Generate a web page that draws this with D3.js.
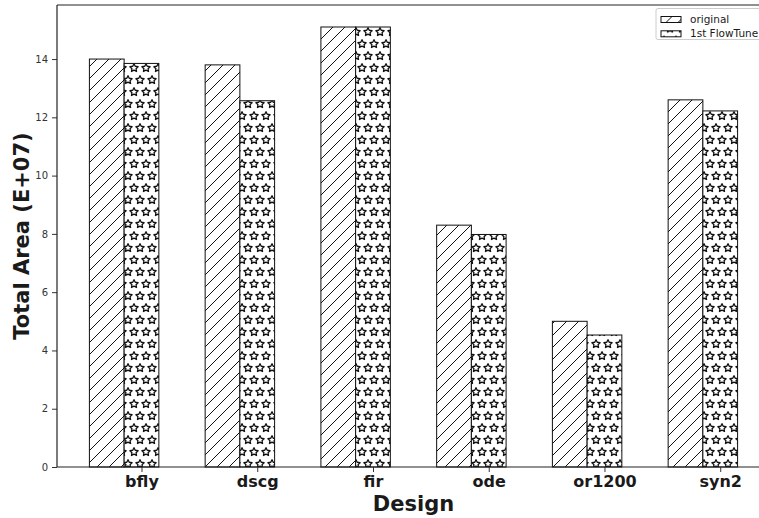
<!DOCTYPE html>
<html>
<head>
<meta charset="utf-8">
<script src="https://cdn.jsdelivr.net/npm/d3@7"></script>
<style>
  html, body { margin: 0; padding: 0; background: #fff; }
  svg { display: block; font-family: "DejaVu Sans", sans-serif; }
</style>
</head>
<body>
<svg id="chart" width="759" height="518"></svg>
<script>
// values (units: E+07)
const designs = ["bfly", "dscg", "fir", "ode", "or1200", "syn2"];
const original = [14.0, 13.8, 15.1, 8.3, 5.0, 12.6];
const flowTune = [13.85, 12.57, 15.1, 7.98, 4.53, 12.22];
const seriesNames = ["original", "1st FlowTune"];
const yTicks = [0, 2, 4, 6, 8, 10, 12, 14];

const svg = d3.select("#chart");
const W = 759, H = 518;
const plot = { left: 57, right: 770, top: 5, bottom: 467 };
const barW = 0.3;

const x = d3.scaleLinear().domain([-0.43, 5.73]).range([plot.left, plot.right]);
const y = d3.scaleLinear().domain([0, 15.855]).range([plot.bottom, plot.top]);

// hatch patterns
const defs = svg.append("defs");
const diag = defs.append("pattern")
    .attr("id", "hatchDiag")
    .attr("patternUnits", "userSpaceOnUse")
    .attr("width", 12).attr("height", 12);
diag.append("rect").attr("width", 12).attr("height", 12).attr("fill", "#fff");
diag.append("path")
    .attr("d", "M-3,3 L3,-3 M0,12 L12,0 M9,15 L15,9")
    .attr("stroke", "#111").attr("stroke-width", 1);

const starPath = (cx, cy, r) => {
    const pts = d3.range(10).map(i => {
        const a = -Math.PI / 2 + i * Math.PI / 5;
        const rr = i % 2 === 0 ? r : r * 0.5;
        return [cx + rr * Math.cos(a), cy + rr * Math.sin(a)];
    });
    return "M" + pts.map(p => p.join(",")).join("L") + "Z";
};
const stars = defs.append("pattern")
    .attr("id", "hatchStar")
    .attr("patternUnits", "userSpaceOnUse")
    .attr("width", 12).attr("height", 24)
    .attr("patternTransform", "translate(8,8)");
stars.append("rect").attr("width", 12).attr("height", 24).attr("fill", "#fff");
[[0, 0], [12, 0], [0, 24], [12, 24], [6, 12]].forEach(([cx, cy]) => {
    stars.append("path")
        .attr("d", starPath(cx, cy, 4.3))
        .attr("fill", "none")
        .attr("stroke", "#111")
        .attr("stroke-width", 1.3)
        .attr("stroke-linejoin", "round");
});

const fills = ["url(#hatchDiag)", "url(#hatchStar)"];

// bars
const rows = designs.map((d, i) => ({ i, vals: [original[i], flowTune[i]] }));
const g = svg.append("g");
rows.forEach(r => {
    r.vals.forEach((v, s) => {
        const x0 = r.i - barW / 2 + s * barW;
        g.append("rect")
            .attr("x", x(x0))
            .attr("y", y(v))
            .attr("width", x(x0 + barW) - x(x0))
            .attr("height", y(0) - y(v))
            .attr("fill", fills[s])
            .attr("stroke", "#111")
            .attr("stroke-width", 1);
    });
});

// axes
const yAxis = svg.append("g")
    .attr("transform", `translate(${plot.left},0)`)
    .call(d3.axisLeft(y).tickValues(yTicks).tickSize(5).tickPadding(4));
yAxis.select(".domain").remove();
yAxis.selectAll("text").attr("font-size", 10).attr("fill", "#333")
    .attr("font-family", "DejaVu Sans");
yAxis.selectAll("line").attr("stroke", "#333");

const xAxis = svg.append("g")
    .attr("transform", `translate(0,${plot.bottom})`)
    .call(d3.axisBottom(x)
        .tickValues(designs.map((d, i) => i + barW))
        .tickFormat((d, i) => designs[i])
        .tickSize(5).tickPadding(4));
xAxis.select(".domain").remove();
xAxis.selectAll("text").attr("font-size", 16).attr("font-weight", "bold")
    .attr("fill", "#1a1a1a").attr("font-family", "DejaVu Sans");
xAxis.selectAll("line").attr("stroke", "#333");

// spines
svg.append("line").attr("x1", plot.left).attr("x2", W).attr("y1", plot.top).attr("y2", plot.top)
    .attr("stroke", "#222").attr("stroke-width", 1.2);
svg.append("line").attr("x1", plot.left).attr("x2", W).attr("y1", plot.bottom).attr("y2", plot.bottom)
    .attr("stroke", "#222").attr("stroke-width", 1.2);
svg.append("line").attr("x1", plot.left).attr("x2", plot.left).attr("y1", plot.top).attr("y2", plot.bottom)
    .attr("stroke", "#222").attr("stroke-width", 1.2);

// axis titles
svg.append("text")
    .attr("x", (plot.left + plot.right) / 2)
    .attr("y", 511)
    .attr("text-anchor", "middle")
    .attr("font-size", 21).attr("font-weight", "bold").attr("fill", "#1a1a1a")
    .text("Design");
svg.append("text")
    .attr("transform", `translate(29,${(plot.top + plot.bottom) / 2}) rotate(-90)`)
    .attr("text-anchor", "middle")
    .attr("font-size", 21).attr("font-weight", "bold").attr("fill", "#1a1a1a")
    .text("Total Area (E+07)");

// legend
const lg = svg.append("g").attr("transform", "translate(656,8.5)");
lg.append("rect")
    .attr("width", 130).attr("height", 31).attr("rx", 2)
    .attr("fill", "#fff").attr("fill-opacity", 0.8)
    .attr("stroke", "#ccc").attr("stroke-width", 1);
seriesNames.forEach((name, s) => {
    lg.append("rect")
        .attr("x", 5).attr("y", 8 + s * 14.3)
        .attr("width", 20).attr("height", 6)
        .attr("fill", fills[s]).attr("stroke", "#111").attr("stroke-width", 1);
    lg.append("text")
        .attr("x", 34).attr("y", 14 + s * 14.3)
        .attr("font-size", 10.5).attr("fill", "#1a1a1a")
        .text(name);
});
</script>
</body>
</html>
